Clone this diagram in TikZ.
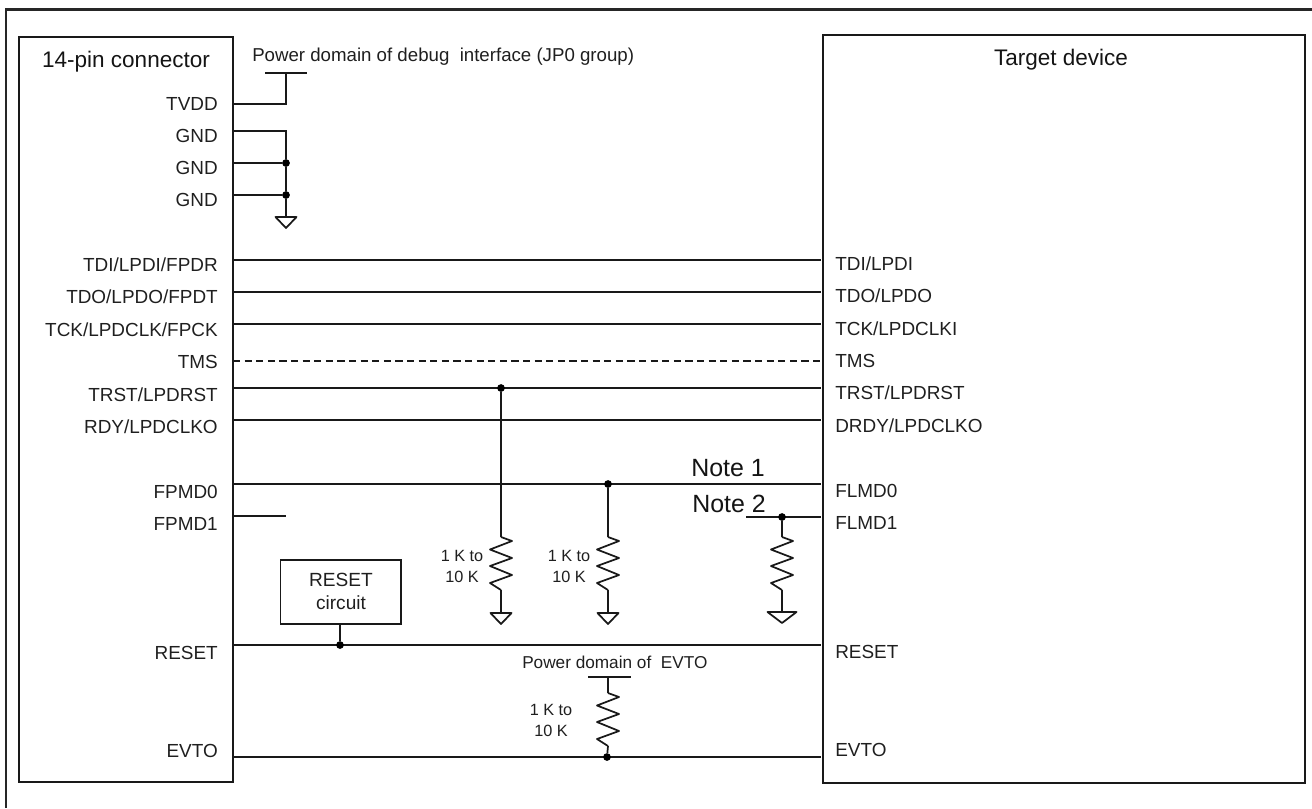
\documentclass[tikz,border=0pt]{standalone}
\usepackage{fontspec}
\setmainfont{Liberation Sans}
\usetikzlibrary{calc}
\tikzset{
  wire/.style={line width=1.3pt,black!90},
  frameline/.style={line width=1.6pt,black!85},
  boxline/.style={draw=black!90,line width=1.5pt,fill=none},
  pinl/.style={anchor=base east,inner sep=0pt,font=\fontsize{14.2}{16}\selectfont,text=black!88},
  pinr/.style={anchor=base west,inner sep=0pt,font=\fontsize{14.2}{16}\selectfont,text=black!88},
  valtext/.style={align=center,inner sep=0pt,font=\fontsize{12.2}{15.7}\selectfont,text=black!88},
  title/.style={inner sep=0pt,font=\fontsize{16.9}{20}\selectfont,text=black!92},
  note/.style={anchor=base west,inner sep=0pt,font=\fontsize{18.7}{20}\selectfont,text=black!92},
  dot/.style={circle,fill=black,inner sep=0pt,minimum size=5.8pt},
  pics/resistor/.style={code={
    \draw[wire,line join=round] (0,0) -- (11,4) -- (-11,12.5) -- (11,21) -- (-11,29) -- (11,38) -- (-11,46) -- (0,53);
  }},
  pics/groundsym/.style args={#1/#2}{code={
    \draw[wire,line join=round] (-#1,0) -- (#1,0) -- (0,#2) -- cycle;
  }}
}
\begin{document}
\begin{tikzpicture}[x=0.75pt,y=-0.75pt]
\useasboundingbox (0,0) rectangle (1312,808);
% outer frame (left and top rules)
\coordinate (FA) at (6,808);
\coordinate (FB) at (6,9.5);
\coordinate (FC) at (1312,9.5);
\draw[frameline] (FA) -- (FB) -- (FC);
% main boxes
\node[boxline,minimum width=161pt,minimum height=559pt,inner sep=0pt,anchor=north west] (conn) at (17.5,35.5) {};
\node[boxline,minimum width=361.8pt,minimum height=561pt,inner sep=0pt,anchor=north west] (dev) at (821.5,34) {};
\node[title] (connT) at (126,62) {14-pin connector};
\node[title] (devT) at (1061,60) {Target device};
\node[anchor=base west,inner sep=0pt,font=\fontsize{14}{16}\selectfont,text=black!88] (pwr) at (252,61) {Power domain of debug\ \ interface (JP0 group)};
% left pin labels
\node[pinl] (lTVDD) at (218,110) {TVDD};
\node[pinl] (lG1) at (218,142) {GND};
\node[pinl] (lG2) at (218,174) {GND};
\node[pinl] (lG3) at (218,206.5) {GND};
\node[pinl] (lTDI) at (218,271) {TDI/LPDI/FPDR};
\node[pinl] (lTDO) at (218,303.5) {TDO/LPDO/FPDT};
\node[pinl] (lTCK) at (218,336) {TCK/LPDCLK/FPCK};
\node[pinl] (lTMS) at (218,368.5) {TMS};
\node[pinl] (lTRST) at (218,401) {TRST/LPDRST};
\node[pinl] (lRDY) at (218,433) {RDY/LPDCLKO};
\node[pinl] (lFP0) at (218,498.5) {FPMD0};
\node[pinl] (lFP1) at (218,530.5) {FPMD1};
\node[pinl] (lRES) at (218,659.5) {RESET};
\node[pinl] (lEV) at (218,757.5) {EVTO};
% right pin labels
\node[pinr] (rTDI) at (835,270) {TDI/LPDI};
\node[pinr] (rTDO) at (835,302.5) {TDO/LPDO};
\node[pinr] (rTCK) at (835,335) {TCK/LPDCLKI};
\node[pinr] (rTMS) at (835,367) {TMS};
\node[pinr] (rTRST) at (835,399.5) {TRST/LPDRST};
\node[pinr] (rDRDY) at (835,432) {DRDY/LPDCLKO};
\node[pinr] (rFL0) at (835,497) {FLMD0};
\node[pinr] (rFL1) at (835,529) {FLMD1};
\node[pinr] (rRES) at (835,658.5) {RESET};
\node[pinr] (rEV) at (835,756) {EVTO};
% TVDD and GND
\coordinate (pTV) at (232,104);
\coordinate (pTVk) at (286,104);
\coordinate (pTVt) at (286,73);
\coordinate (pbA) at (265,73);
\coordinate (pbB) at (307,73);
\draw[wire] (pTV) -- (pTVk) -- (pTVt);
\draw[wire] (pbA) -- (pbB);
\coordinate (pG1) at (232,131);
\coordinate (pG1k) at (286,131);
\coordinate (pG2) at (232,163);
\coordinate (pG3) at (232,195);
\node[dot] (jG2) at (286,163) {};
\node[dot] (jG3) at (286,195) {};
\coordinate (gA) at (286,217);
\draw[wire] (pG1) -- (pG1k) -- (jG2) -- (jG3) -- (gA);
\draw[wire] (pG2) -- (jG2);
\draw[wire] (pG3) -- (jG3);
\pic at (gA) {groundsym=10.5/11};
% signal lines
\foreach \n/\y in {TDI/260,TDO/292,TCK/324,TRST/388,RDY/420,FP0/484,RES/645,EV/757}{
  \coordinate (a\n) at (232,\y);
  \coordinate (b\n) at (821,\y);
}
\draw[wire] (aTDI) -- (bTDI);
\draw[wire] (aTDO) -- (bTDO);
\draw[wire] (aTCK) -- (bTCK);
\coordinate (aTMS) at (233,361);
\coordinate (bTMS) at (821,361);
\draw[wire,dash pattern=on 5.4pt off 3.3pt] (aTMS) -- (bTMS);
\draw[wire] (aTRST) -- (bTRST);
\draw[wire] (aRDY) -- (bRDY);
\draw[wire] (aFP0) -- (bFP0);
\coordinate (aFP1) at (232,516);
\coordinate (bFP1) at (286,516);
\draw[wire] (aFP1) -- (bFP1);
\draw[wire] (aRES) -- (bRES);
\coordinate (aEVs) at (234,757);
\draw[wire] (aEVs) -- (bEV);
% Notes
\node[note] (n1) at (691,476) {Note 1};
\node[note] (n2) at (692,512.5) {Note 2};
\coordinate (fA) at (746,517);
\coordinate (fB) at (821,517);
\draw[wire] (fA) -- (fB);
% pull-down 1
\node[dot] (j1) at (501,388) {};
\coordinate (r1t) at (501,537);
\coordinate (r1b) at (501,590);
\coordinate (g1) at (501,613);
\draw[wire] (j1) -- (r1t);
\pic at (r1t) {resistor};
\draw[wire] (r1b) -- (g1);
\pic at (g1) {groundsym=10.5/11};
\node[valtext] (v1) at (462,566.5) {1 K to\\10 K};
% pull-down 2
\node[dot] (j2) at (608,484) {};
\coordinate (r2t) at (608,537);
\coordinate (r2b) at (608,590);
\coordinate (g2) at (608,613);
\draw[wire] (j2) -- (r2t);
\pic at (r2t) {resistor};
\draw[wire] (r2b) -- (g2);
\pic at (g2) {groundsym=10.5/11};
\node[valtext] (v2) at (569,566.5) {1 K to\\10 K};
% pull-down 3
\node[dot] (j3) at (782,517) {};
\coordinate (r3t) at (782,537);
\coordinate (r3b) at (782,590);
\coordinate (g3) at (782,612);
\draw[wire] (j3) -- (r3t);
\pic at (r3t) {resistor};
\draw[wire] (r3b) -- (g3);
\pic at (g3) {groundsym=14.5/11};
% RESET circuit
\node[draw=black!90,line width=1.4pt,minimum width=90.5pt,minimum height=48pt,inner sep=0pt] (rc) at (340.8,592) {};
\node[inner sep=0pt,align=center,font=\fontsize{14.3}{17.3}\selectfont,text=black!88] (rcT) at (341,591.5) {RESET\\circuit};
\node[dot] (jR) at (340,645) {};
\draw[wire] (rc.south -| jR) -- (jR);
% EVTO pull-up
\node[anchor=base west,inner sep=0pt,font=\fontsize{12.9}{15}\selectfont,text=black!88] (pe) at (522,668.5) {Power domain of\ \ EVTO};
\coordinate (ebA) at (588,677);
\coordinate (ebB) at (631,677);
\draw[wire] (ebA) -- (ebB);
\coordinate (ebM) at (608,677);
\coordinate (r4t) at (608,693);
\coordinate (r4b) at (608,746);
\node[dot] (j4) at (607,757) {};
\draw[wire] (ebM) -- (r4t);
\pic at (r4t) {resistor};
\draw[wire] (r4b) -- (j4);
\node[valtext] (v3) at (551,720.5) {1 K to\\10 K};
\end{tikzpicture}
\end{document}
